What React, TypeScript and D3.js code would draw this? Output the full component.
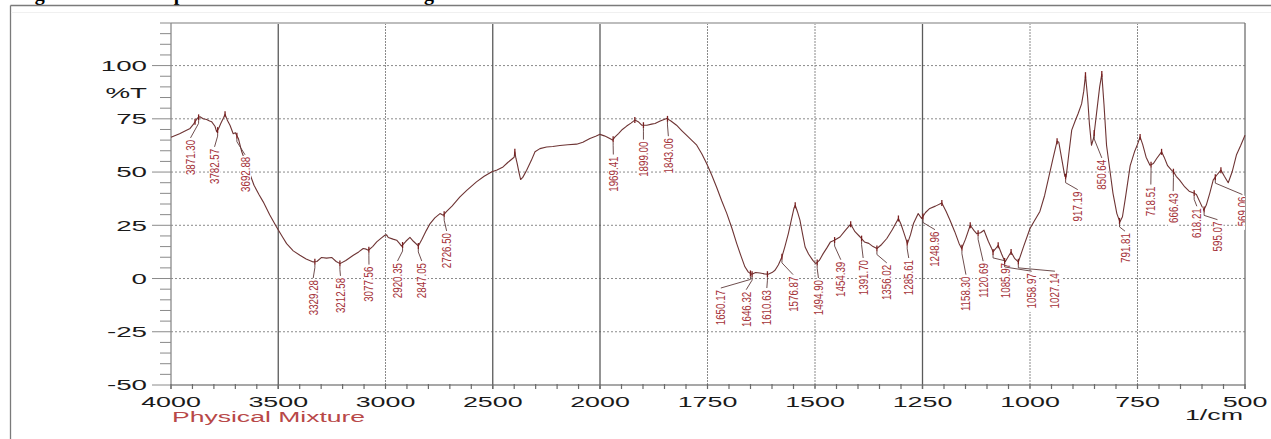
import React from "react";
import * as d3 from "d3";

// ---- data ----
const wavenumbers = [
  4000, 3960, 3930, 3911, 3895, 3888, 3875, 3865, 3850, 3834, 3820, 3810, 3795, 3787, 3778, 3768, 3755, 3748,
  3738, 3725, 3710, 3700, 3694, 3686, 3670, 3650, 3630, 3613, 3590, 3570, 3540, 3508, 3480, 3461, 3430, 3399,
  3370, 3337, 3320, 3298, 3275, 3251, 3230, 3212, 3185, 3150, 3125, 3104, 3090, 3080, 3060, 3041, 3020, 3003,
  2995, 2987, 2965, 2948, 2935, 2925, 2905, 2886, 2870, 2847, 2830, 2810, 2792, 2770, 2746, 2731, 2715, 2690,
  2653, 2620, 2576, 2540, 2504, 2480, 2452, 2430, 2406, 2400, 2397, 2392, 2386, 2378, 2370, 2360, 2342, 2320,
  2303, 2280, 2249, 2220, 2187, 2150, 2109, 2080, 2047, 2020, 2000, 1990, 1984, 1975, 1971, 1965, 1957, 1948,
  1938, 1928, 1919, 1910, 1903, 1891, 1880, 1872, 1860, 1845, 1835, 1822, 1810, 1799, 1787, 1775, 1763, 1752,
  1740, 1729, 1717, 1705, 1693, 1682, 1672, 1663, 1655, 1647, 1638, 1628, 1618, 1609, 1600, 1593, 1585, 1577,
  1570, 1562, 1555, 1549, 1546, 1541, 1535, 1529, 1523, 1515, 1505, 1498, 1490, 1481, 1472, 1464, 1455, 1442,
  1430, 1417, 1407, 1395, 1385, 1375, 1365, 1356, 1345, 1333, 1320, 1306, 1300, 1294, 1285, 1278, 1271, 1260,
  1252, 1243, 1233, 1220, 1205, 1195, 1186, 1175, 1165, 1159, 1150, 1139, 1130, 1124, 1115, 1107, 1097, 1090,
  1086, 1080, 1074, 1066, 1058, 1050, 1044, 1036, 1027, 1015, 1000, 990, 977, 966, 957, 947, 937, 933, 926,
  919, 916, 910, 903, 895, 888, 880, 875, 871, 866, 862, 857, 852, 845, 838, 833, 828, 822, 815, 807, 798, 791,
  785, 778, 767, 757, 750, 744, 738, 730, 721, 713, 705, 694, 688, 680, 671, 666, 660, 652, 640, 630, 618, 613,
  605, 596, 590, 582, 574, 566, 556, 548, 539, 530, 520, 510, 500,
];
const transmittance = [
  66.3, 68.0, 69.5, 70.5, 72.5, 73.6, 75.5, 76.0, 75.0, 74.7, 74.0, 73.6, 71.5, 68.9, 70.5, 72.8, 75.5, 77.2,
  74.5, 72.0, 68.0, 68.5, 67.3, 65.8, 59.5, 54.0, 48.5, 43.8, 39.5, 36.0, 30.0, 24.2, 19.5, 16.4, 13.0, 10.9,
  9.2, 7.8, 8.0, 9.9, 9.6, 9.9, 8.0, 7.0, 8.5, 10.9, 12.5, 14.1, 13.8, 13.3, 15.0, 17.2, 19.0, 20.3,
  20.5, 19.3, 18.5, 18.0, 16.5, 15.2, 17.5, 19.3, 17.5, 15.3, 18.5, 22.5, 25.8, 28.5, 30.5, 29.7, 31.5, 34.0,
  38.3, 41.5, 45.4, 48.0, 50.1, 51.0, 52.4, 54.5, 56.5, 57.0, 59.5, 56.5, 54.0, 50.0, 46.5, 47.5, 50.9, 55.5,
  59.5, 61.0, 61.8, 62.0, 62.5, 62.8, 63.1, 64.0, 65.8, 66.8, 67.7, 67.0, 66.5, 65.5, 65.0, 66.5, 68.1, 70.0,
  71.6, 73.0, 74.4, 73.5, 72.0, 72.0, 72.5, 72.8, 74.0, 75.2, 74.0, 72.0, 69.5, 67.3, 65.0, 62.6, 58.5, 54.0,
  48.5, 43.0, 36.5, 30.5, 23.5, 16.4, 10.5, 5.5, 3.0, 2.0, 2.8, 2.6, 2.2, 2.0, 2.8, 3.9, 6.5, 10.1,
  15.0, 21.1, 27.5, 33.0, 34.4, 31.5, 27.4, 21.0, 14.8, 11.5, 8.5, 7.0, 8.5, 11.7, 14.5, 17.2, 18.0, 19.5,
  22.5, 25.5, 22.0, 19.5, 17.2, 16.5, 15.0, 14.1, 16.0, 18.8, 23.0, 28.2, 25.5, 21.9, 16.4, 20.5, 25.8, 30.5,
  28.2, 31.0, 32.9, 34.0, 35.5, 31.5, 27.4, 22.0, 16.5, 14.1, 18.5, 25.0, 22.5, 21.1, 21.5, 22.7, 17.5, 14.5,
  12.5, 14.0, 15.6, 11.5, 7.8, 10.5, 12.5, 9.5, 7.8, 15.0, 23.5, 27.0, 31.5, 39.0, 47.0, 56.0, 64.5, 64.0, 56.0,
  48.0, 47.7, 58.0, 69.7, 74.0, 77.5, 82.0, 88.0, 95.5, 85.0, 73.0, 62.6, 66.0, 78.0, 90.0, 96.0, 82.0, 62.6, 52.0, 40.0, 30.5, 26.6,
  29.0, 38.0, 53.0, 59.5, 63.0, 66.5, 63.0, 57.0, 53.2, 54.0, 56.5, 59.5, 57.0, 53.0, 50.9, 50.1, 48.0, 46.2, 43.0, 41.0, 40.0, 39.5,
  36.0, 32.1, 34.5, 40.0, 46.2, 48.5, 50.9, 48.0, 45.0, 50.0, 58.0, 62.5, 67.3,
];

const peakLabels = [
  "3871.30", "3782.57", "3692.88", "3329.28", "3212.58", "3077.56", "2920.35", "2847.05", "2726.50",
  "1969.41", "1899.00", "1843.06", "1650.17", "1646.32", "1610.63", "1576.87", "1494.90", "1454.39",
  "1391.70", "1356.02", "1285.61", "1248.96", "1158.30", "1120.69", "1085.97", "1058.97", "1027.14",
  "917.19", "850.64", "791.81", "718.51", "666.43", "618.21", "595.07", "569.06",
];
// where each label text sits: centre wavenumber and top %T
const labelWn = [
  3909, 3797, 3655, 3337, 3210, 3077, 2944, 2831, 2715,
  1969, 1899, 1841, 1719, 1660, 1612, 1551, 1492, 1440,
  1388, 1333, 1282, 1221, 1149, 1109, 1056, 996, 942,
  889, 833, 779, 719, 667, 612, 564, 506,
];
const labelTop = [
  65.1, 60.9, 57.2, -0.7, 0.3, 5.6, 7.3, 7.3, 21.4,
  57.3, 64.3, 65.9, -5.4, -6.2, -5.4, 0.9, -0.7, 7.9,
  8.7, 6.4, 8.7, 22.0, 0.9, 7.2, 7.3, 2.5, 2.5,
  40.8, 55.7, 21.3, 43.2, 40.1, 33.0, 26.7, 38.5,
];
const extraMarks = [3888, 3748, 2397, 1919, 1546, 1417, 1306, 1205, 1139, 1074, 1044, 937, 871, 833, 744, 694, 556];

const xTicks = [4000, 3500, 3000, 2500, 2000, 1750, 1500, 1250, 1000, 750, 500];
const yTicks = [100, 75, 50, 25, 0, -25, -50];
const darkGrid = [3500, 2500, 2000, 1250];

const captionText = "Figure 10: FTIR Spectrum of the Pure Test Drug and Mixture";
const axisUnit = "1/cm";
const yUnit = "%T";
const sampleName = "Physical Mixture";

const W = 1271;
const H = 439;
const X0 = 171, XM = 600, X1 = 1245, Y0 = 385, Y1 = 23;

export default function App() {
  const x = d3.scaleLinear().domain([4000, 2000, 500]).range([X0, XM, X1]);
  const y = d3.scaleLinear().domain([-50, 120]).range([Y0, Y1]);
  const pts: [number, number][] = wavenumbers.map((w, i) => [w, transmittance[i]]);
  const line = d3
    .line<[number, number]>()
    .x((d) => x(d[0]))
    .y((d) => y(d[1]));
  const interpT = (w: number) => {
    for (let i = 0; i < wavenumbers.length - 1; i++) {
      const a = wavenumbers[i], b = wavenumbers[i + 1];
      if (w <= a && w >= b) {
        const t = (a - w) / (a - b);
        return transmittance[i] + t * (transmittance[i + 1] - transmittance[i]);
      }
    }
    return transmittance[transmittance.length - 1];
  };
  const minorY = d3.range(-50, 121, 5);
  const minorX = [...d3.range(4000, 2000, -100), ...d3.range(2000, 499, -50)];
  const axisFont = "'Liberation Sans', Arial, Helvetica, sans-serif";
  const SX = 1.85;
  const lineColor = "#6e3434";
  const labelColor = "#a5333a";

  return (
    <div style={{ position: "absolute", left: 0, top: 0 }}>
      <svg width={W} height={H} style={{ display: "block", background: "#fff" }}>
        {/* cut-off caption above the frame */}
        <text x={17} y={0} fontFamily="'Liberation Serif', 'Times New Roman', serif" fontWeight="bold" fontSize={20} fill="#000">
          {captionText}
        </text>
        {/* outer frame */}
        <line x1={10.5} x2={W} y1={5.5} y2={5.5} stroke="#7a7a7a" strokeWidth={1.3} />
        <line x1={10.5} x2={10.5} y1={5.5} y2={H} stroke="#7a7a7a" strokeWidth={1.3} />
        <line x1={11} x2={W} y1={12.5} y2={12.5} stroke="#f0f0f0" strokeWidth={1} />

        {/* horizontal grid */}
        {yTicks.slice(0, 6).map((t) => (
          <line key={"hg" + t} x1={X0} x2={X1} y1={y(t)} y2={y(t)} stroke="#8a8a8a" strokeWidth={1} strokeDasharray="2,2" />
        ))}
        {/* vertical grid */}
        {xTicks.slice(1, -1).map((t) => {
          const dark = darkGrid.includes(t);
          return (
            <line
              key={"vg" + t}
              x1={x(t)}
              x2={x(t)}
              y1={Y1}
              y2={Y0 + 4}
              stroke={dark ? "#5a5a5a" : "#8a8a8a"}
              strokeWidth={dark ? 1.3 : 1}
              strokeDasharray={dark ? undefined : "2,1"}
            />
          );
        })}
        {/* plot frame */}
        <line x1={X0} x2={X1} y1={Y1} y2={Y1} stroke="#bdbdbd" strokeWidth={2} />
        <line x1={X1} x2={X1} y1={Y1} y2={Y0 + 4} stroke="#707070" strokeWidth={1.3} />
        <line x1={X0} x2={X0} y1={Y1} y2={Y0 + 4} stroke="#8a8a8a" strokeWidth={1.3} />
        <line x1={X0} x2={X1} y1={Y0} y2={Y0} stroke="#8a8a8a" strokeWidth={1.3} />

        {/* y ticks */}
        {minorY.map((t) => (
          <line
            key={"my" + t}
            x1={t % 25 === 0 ? 152 : 160}
            x2={X0}
            y1={y(t)}
            y2={y(t)}
            stroke="#8a8a8a"
            strokeWidth={1}
          />
        ))}
        {/* x ticks */}
        {minorX.map((t) => (
          <line key={"mx" + t} x1={x(t)} x2={x(t)} y1={Y0 - 1} y2={Y0 + 4} stroke="#6a6a6a" strokeWidth={1.2} />
        ))}

        {/* y labels */}
        {yTicks.map((t) => (
          <text
            key={"yl" + t}
            transform={`translate(147,${y(t) + 5.3}) scale(${SX},1)`}
            textAnchor="end"
            fontFamily={axisFont}
            fontSize={15}
            fill="#1a1a1a"
          >
            {t}
          </text>
        ))}
        <text transform={`translate(147,${y(100) + 32}) scale(${SX},1)`} textAnchor="end" fontFamily={axisFont} fontSize={15} fill="#1a1a1a">
          {yUnit}
        </text>
        {/* x labels */}
        {xTicks.map((t) => (
          <text
            key={"xl" + t}
            transform={`translate(${x(t)},${Y0 + 22}) scale(${SX},1)`}
            textAnchor="middle"
            fontFamily={axisFont}
            fontSize={14.5}
            fill="#1a1a1a"
          >
            {t}
          </text>
        ))}
        <text transform={`translate(1243,420) scale(${SX},1)`} textAnchor="end" fontFamily={axisFont} fontSize={14.5} fill="#1a1a1a">
          {axisUnit}
        </text>
        <text transform={`translate(172,422) scale(1.83,1)`} fontFamily={axisFont} fontSize={14.5} fill="#b84848">
          {sampleName}
        </text>

        {/* spectrum */}
        <path d={line(pts) || ""} fill="none" stroke={lineColor} strokeWidth={1.1} strokeLinejoin="round" />

        {/* markers */}
        {extraMarks.map((w) => (
          <line key={"em" + w} x1={x(w)} x2={x(w)} y1={y(interpT(w)) - 3} y2={y(interpT(w)) + 3} stroke="#7a1f1f" strokeWidth={1.3} />
        ))}
        <g clipPath="url(#plotclip)">
          {peakLabels.map((lab, i) => {
            const pw = parseFloat(lab);
            const px = x(pw);
            const py = y(interpT(pw));
            const lx = x(labelWn[i]);
            const ly = y(labelTop[i]);
            const natural = lab.length * 6.95;
            return (
              <g key={"pl" + lab}>
                <line x1={px} x2={px} y1={py - 3} y2={py + 3} stroke="#7a1f1f" strokeWidth={1.3} />
                <path d={`M${px},${py + 3} L${px},${py + 6} L${lx},${ly - 2}`} fill="none" stroke="#5e3a3a" strokeWidth={0.9} />
                <g transform={`translate(${lx + 4.5},${ly}) rotate(-90) scale(0.78,1)`}>
                  <rect x={-natural - 1} y={-9.5} width={natural + 2} height={11} fill="#fff" />
                  <text x={0} y={0} textAnchor="end" fontFamily={axisFont} fontSize={12.5} fill={labelColor}>
                    {lab}
                  </text>
                </g>
              </g>
            );
          })}
        </g>
        <defs>
          <clipPath id="plotclip">
            <rect x={X0} y={Y1} width={X1 - X0} height={Y0 - Y1} />
          </clipPath>
        </defs>
      </svg>
    </div>
  );
}
